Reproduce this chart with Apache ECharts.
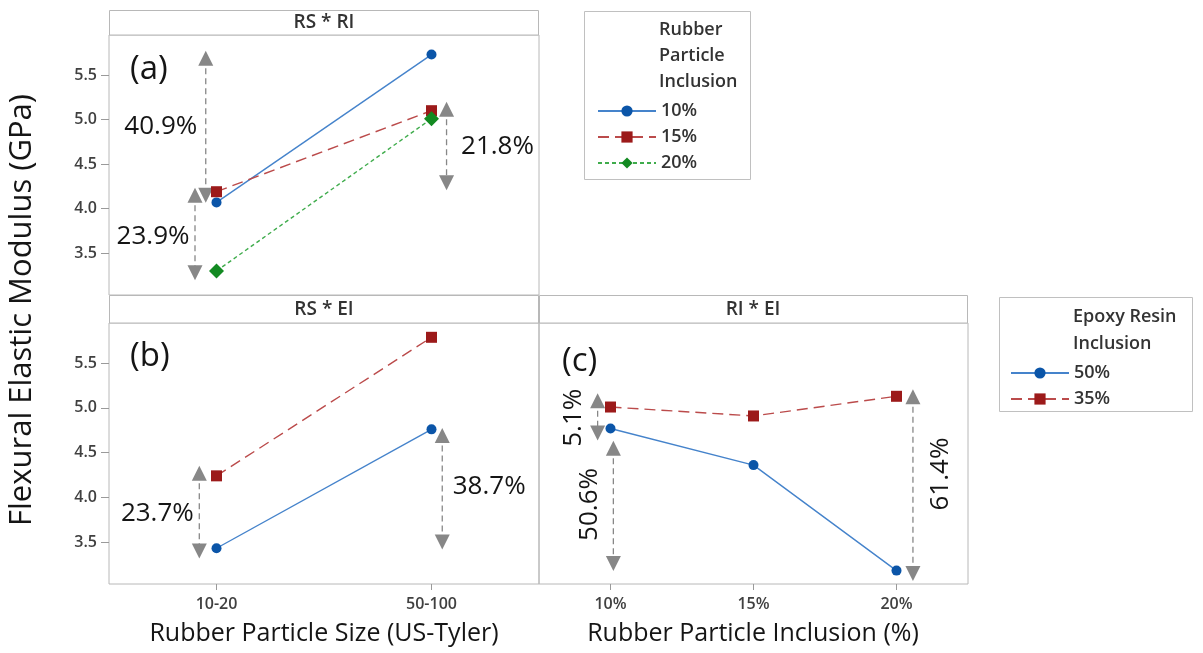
<!DOCTYPE html>
<html><head><meta charset="utf-8">
<script src="https://cdn.jsdelivr.net/npm/echarts@6/dist/echarts.min.js"></script>
<style>html,body{margin:0;padding:0;background:#fff}#c{width:1203px;height:653px}</style>
</head><body><div id="c"></div>
<script>
// ---- data ----
const sizeCategories = ['10-20', '50-100'];
const inclusionCategories = ['10%', '15%', '20%'];
const yTickValues = [3.5, 4.0, 4.5, 5.0, 5.5];
// Panel (a) RS * RI  (rubber particle inclusion levels)
const rsRi10 = [4.07, 5.73];
const rsRi15 = [4.19, 5.10];
const rsRi20 = [3.30, 5.01];
// Panel (b) RS * EI  (epoxy resin inclusion levels)
const rsEi50 = [3.43, 4.76];
const rsEi35 = [4.24, 5.79];
// Panel (c) RI * EI
const riEi50 = [4.77, 4.36, 3.18];
const riEi35 = [5.01, 4.91, 5.13];
// Annotation arrows: [panel, x (category index units), top value, bottom value, label value, text]
const arrowData = [
  [0, -0.05, 5.69, 4.15, 4.92, '40.9%'],
  [0, -0.10, 4.15, 3.28, 3.69, '23.9%'],
  [0, 1.07, 5.115, 4.29, 4.70, '21.8%'],
  [1, -0.08, 4.27, 3.40, 3.82, '23.7%'],
  [1, 1.05, 4.69, 3.50, 4.125, '38.7%'],
  [2, -0.09, 5.08, 4.72, 4.89, '5.1%'],
  [2, 0.02, 4.55, 3.26, 3.92, '50.6%'],
  [2, 2.115, 5.126, 3.148, 4.26, '61.4%']
];

// ---- styles ----
const FONT = '"Open Sans", "Noto Sans", sans-serif';
const labelStyles = {
  '40.9%': {position: 'left', distance: 8},
  '23.9%': {position: 'left', distance: 5},
  '21.8%': {position: 'right', distance: 14},
  '23.7%': {position: 'left', distance: 5},
  '38.7%': {position: 'right', distance: 10},
  '5.1%': {position: 'inside', rotate: 90, offset: [0, -24]},
  '50.6%': {position: 'inside', rotate: 90, offset: [0, -24]},
  '61.4%': {position: 'inside', rotate: 90, offset: [0, 28]}
};
const BLUE_M = '#0b55a8', BLUE_L = '#4583cb';
const RED_M = '#9c1a1a', RED_L = '#bb4b4b';
const GREEN_M = '#138a22', GREEN_L = '#3fac4c';
const GRAY = '#878787';

const grids = [
  {left: 109, top: 35, width: 430, height: 260},
  {left: 109, top: 323, width: 430, height: 261},
  {left: 539, top: 323, width: 429, height: 261}
].map(g => Object.assign(g, {show: true, borderColor: '#b8b8b8', borderWidth: 1, backgroundColor: 'transparent'}));

const tickLabelStyle = {fontFamily: FONT, fontSize: 16, fontWeight: 600, color: '#404040'};

function catAxis(gridIndex, cats, showLabels) {
  return {
    type: 'category', gridIndex, data: cats, boundaryGap: true, position: 'bottom',
    axisLine: {show: false, onZero: false},
    axisTick: {show: showLabels, alignWithLabel: true, length: 6, lineStyle: {color: '#9a9a9a'}},
    axisLabel: Object.assign({show: showLabels, margin: 12}, tickLabelStyle),
    splitLine: {show: false}
  };
}
function hiddenValueX(gridIndex, n) {
  return {type: 'value', gridIndex, min: -0.5, max: n - 0.5, show: false, position: 'top',
    axisLine: {onZero: false}};
}
function yAxis(gridIndex, showLabels) {
  return {
    type: 'value', gridIndex, min: 3.03, max: 5.95, position: 'left',
    axisLine: {show: false, onZero: false},
    axisTick: {show: showLabels, length: 8, customValues: yTickValues, lineStyle: {color: '#9a9a9a'}},
    axisLabel: Object.assign({show: showLabels, margin: 12, customValues: yTickValues,
      formatter: v => v.toFixed(1)}, tickLabelStyle),
    splitLine: {show: false}
  };
}

function lineSeries(name, xi, yi, data, mColor, lColor, symbol, size, dash) {
  return {
    name, type: 'line', xAxisIndex: xi, yAxisIndex: yi, data,
    symbol, symbolSize: size, showSymbol: true,
    itemStyle: {color: mColor},
    lineStyle: {color: lColor, width: 1.4, type: dash},
    emphasis: {disabled: true}, silent: true, z: 3
  };
}

const hiddenX = [1, 3, 5];
function arrowSeries(a) {
  const [panel, x, top, bot, ly, text] = a;
  const st = labelStyles[text];
  const label = Object.assign({show: true, formatter: text, fontFamily: FONT, fontSize: 26, color: '#151515',
    align: st.rotate ? 'center' : undefined, verticalAlign: 'middle'}, st);
  return {
    type: 'line', xAxisIndex: hiddenX[panel], yAxisIndex: panel, silent: true,
    emphasis: {disabled: true},
    lineStyle: {color: GRAY, width: 1.3, type: [6, 4]},
    symbol: 'triangle', symbolSize: [15, 15],
    itemStyle: {color: GRAY},
    data: [
      {value: [x, top], symbolRotate: 0},
      {value: [x, ly], symbol: 'circle', symbolSize: 1, itemStyle: {color: 'rgba(0,0,0,0)'}, label},
      {value: [x, bot], symbolRotate: 180}
    ],
    z: 2
  };
}

const chart = echarts.init(document.getElementById('c'), null, {renderer: 'canvas'});

const stripText = {fontFamily: FONT, fontSize: 19, fontWeight: 600, fill: '#333', align: 'center', verticalAlign: 'middle'};
const legendText = {fontFamily: FONT, fontSize: 18, fontWeight: 600, color: '#333'};
const legendTitle = {fontFamily: FONT, fontSize: 18, fontWeight: 600, fill: '#333'};

const option = {
  animation: false,
  backgroundColor: '#fff',
  grid: grids,
  xAxis: [
    catAxis(0, sizeCategories, false), hiddenValueX(0, sizeCategories.length),
    catAxis(1, sizeCategories, true), hiddenValueX(1, sizeCategories.length),
    catAxis(2, inclusionCategories, true), hiddenValueX(2, inclusionCategories.length)
  ],
  yAxis: [yAxis(0, true), yAxis(1, true), yAxis(2, false)],
  legend: [
    {data: ['10%', '15%', '20%'], orient: 'vertical', left: 592, top: 97,
      itemWidth: 58, itemHeight: 14, itemGap: 8, textStyle: legendText, selectedMode: false},
    {data: ['50%', '35%'], orient: 'vertical', left: 1005, top: 359,
      itemWidth: 58, itemHeight: 14, itemGap: 8, textStyle: legendText, selectedMode: false}
  ],
  series: [
    lineSeries('10%', 0, 0, rsRi10, BLUE_M, BLUE_L, 'circle', 10, 'solid'),
    lineSeries('15%', 0, 0, rsRi15, RED_M, RED_L, 'rect', 11, [11, 6]),
    lineSeries('20%', 0, 0, rsRi20, GREEN_M, GREEN_L, 'diamond', 15, [4, 3]),
    lineSeries('50%', 2, 1, rsEi50, BLUE_M, BLUE_L, 'circle', 10, 'solid'),
    lineSeries('35%', 2, 1, rsEi35, RED_M, RED_L, 'rect', 11, [11, 6]),
    lineSeries('50%', 4, 2, riEi50, BLUE_M, BLUE_L, 'circle', 10, 'solid'),
    lineSeries('35%', 4, 2, riEi35, RED_M, RED_L, 'rect', 11, [11, 6])
  ].concat(arrowData.map(arrowSeries)),
  graphic: [
    // strip headers
    {type: 'rect', shape: {x: 109.5, y: 10.5, width: 429, height: 24.5}, style: {fill: '#fff', stroke: '#b8b8b8', lineWidth: 1}},
    {type: 'rect', shape: {x: 109.5, y: 295.5, width: 429, height: 27.5}, style: {fill: '#fff', stroke: '#b8b8b8', lineWidth: 1}},
    {type: 'rect', shape: {x: 539.5, y: 295.5, width: 428, height: 27.5}, style: {fill: '#fff', stroke: '#b8b8b8', lineWidth: 1}},
    {type: 'text', x: 324, y: 23, style: Object.assign({text: 'RS * RI'}, stripText)},
    {type: 'text', x: 324, y: 310, style: Object.assign({text: 'RS * EI'}, stripText)},
    {type: 'text', x: 753, y: 310, style: Object.assign({text: 'RI * EI'}, stripText)},
    // panel letters
    {type: 'text', x: 130, y: 70, style: {text: '(a)', fontFamily: FONT, fontSize: 33, fill: '#151515', verticalAlign: 'middle'}},
    {type: 'text', x: 130, y: 357, style: {text: '(b)', fontFamily: FONT, fontSize: 33, fill: '#151515', verticalAlign: 'middle'}},
    {type: 'text', x: 562, y: 362, style: {text: '(c)', fontFamily: FONT, fontSize: 33, fill: '#151515', verticalAlign: 'middle'}},
    // legend boxes
    {type: 'rect', shape: {x: 584.5, y: 11.5, width: 166, height: 168}, style: {fill: 'none', stroke: '#c0c0c0', lineWidth: 1}},
    {type: 'text', x: 659, y: 17, style: Object.assign({text: 'Rubber\nParticle\nInclusion', lineHeight: 26}, legendTitle)},
    {type: 'rect', shape: {x: 999.5, y: 297.5, width: 193, height: 114}, style: {fill: 'none', stroke: '#c0c0c0', lineWidth: 1}},
    {type: 'text', x: 1073, y: 303, style: Object.assign({text: 'Epoxy Resin\nInclusion', lineHeight: 27}, legendTitle)},
    // axis titles
    {type: 'text', x: 22, y: 310, rotation: Math.PI / 2, style: {text: 'Flexural Elastic Modulus (GPa)', fontFamily: FONT, fontSize: 31, fill: '#151515', align: 'center', verticalAlign: 'middle'}},
    {type: 'text', x: 324, y: 634, style: {text: 'Rubber Particle Size (US-Tyler)', fontFamily: FONT, fontSize: 25, fill: '#151515', align: 'center', verticalAlign: 'middle'}},
    {type: 'text', x: 753, y: 634, style: {text: 'Rubber Particle Inclusion (%)', fontFamily: FONT, fontSize: 25, fill: '#151515', align: 'center', verticalAlign: 'middle'}}
  ]
};
chart.setOption(option);
</script></body></html>
